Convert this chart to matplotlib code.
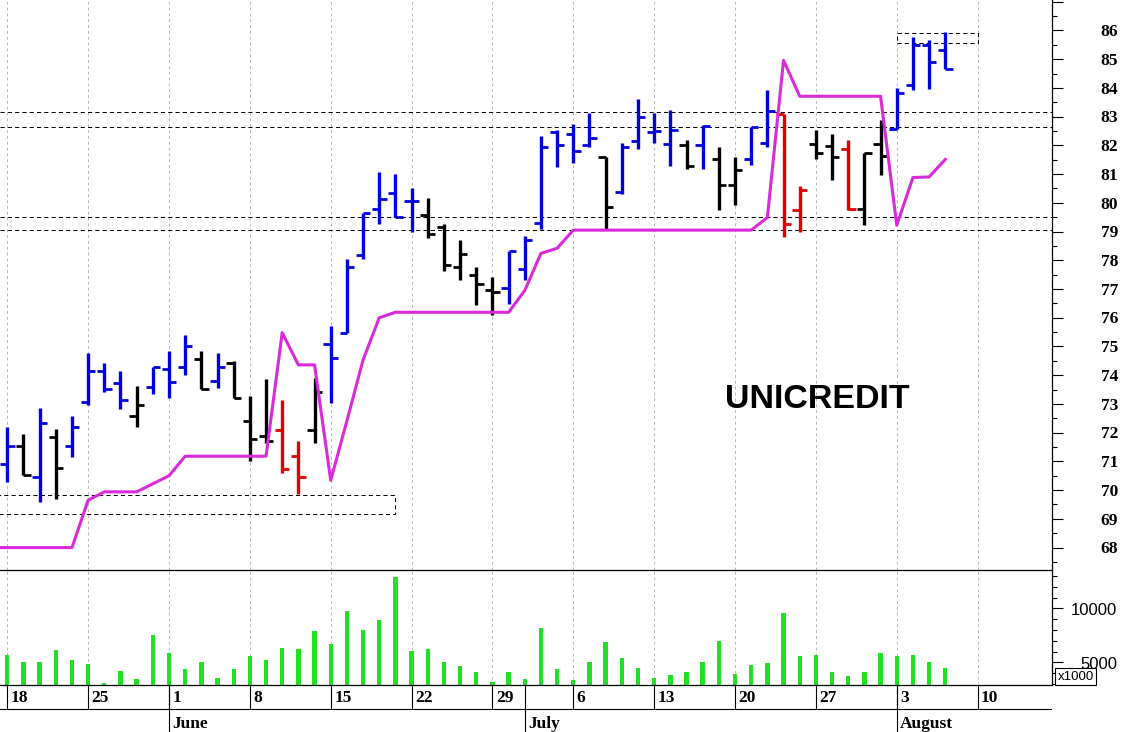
import numpy as np
import matplotlib
matplotlib.use("Agg")
import matplotlib.pyplot as plt
from matplotlib import transforms
from matplotlib.patches import Rectangle

# daily bars, 18 May -> 6 Aug (one entry per trading day)
opens = [70.92, 71.52, 70.44, 71.86, 71.55, 73.08, 74.13, 73.74, 72.59, 73.60,
         74.20, 74.27, 74.55, 73.81, 74.44, 72.39, 71.90, 72.11, 71.20, 72.11,
         75.10, 75.48, 78.20, 79.80, 80.33, 80.05, 79.56, 79.16, 77.75, 77.48,
         76.95, 77.02, 77.71, 79.31, 82.45, 82.41, 82.03, 81.58, 80.36, 82.14,
         82.48, 82.06, 82.00, 82.00, 81.52, 80.61, 81.51, 82.08, 83.08, 79.74,
         82.04, 81.97, 81.89, 79.80, 82.06, 82.58, 84.09, 85.48, 85.31]
highs = [72.21, 71.97, 72.87, 72.14, 72.59, 74.79, 74.41, 74.13, 73.64, 74.30,
         74.86, 75.41, 74.86, 74.79, 74.48, 73.26, 73.88, 73.12, 71.72, 73.92,
         75.73, 78.03, 79.66, 81.06, 80.99, 80.50, 80.17, 79.28, 78.70, 77.78,
         77.43, 78.34, 78.83, 82.31, 82.55, 82.76, 83.14, 81.61, 82.10, 83.60,
         83.12, 83.22, 82.18, 82.72, 81.95, 81.58, 82.64, 83.92, 83.10, 80.57,
         82.55, 82.41, 82.18, 81.74, 82.90, 84.01, 85.77, 85.68, 85.94]
lows = [70.30, 70.54, 69.60, 69.70, 71.17, 72.98, 73.43, 72.84, 72.21, 73.36,
        73.19, 73.99, 73.53, 73.57, 73.22, 71.03, 71.65, 70.58, 69.88, 71.65,
        73.05, 75.48, 78.06, 79.25, 79.52, 79.00, 78.79, 77.61, 77.33, 76.46,
        76.08, 76.49, 77.33, 79.10, 81.26, 81.37, 81.93, 79.10, 80.32, 81.86,
        82.08, 81.27, 81.19, 81.19, 79.75, 79.92, 81.31, 81.95, 78.82, 78.98,
        81.54, 80.81, 79.75, 79.22, 80.96, 82.58, 83.94, 83.97, 84.67]
closes = [71.52, 70.54, 72.35, 70.78, 72.21, 74.13, 73.53, 73.15, 72.98, 74.30,
          73.78, 75.00, 73.53, 74.27, 73.22, 71.79, 71.72, 70.75, 70.47, 73.40,
          74.61, 77.75, 79.66, 80.12, 79.52, 80.05, 78.90, 77.82, 78.22, 77.16,
          76.88, 78.34, 78.69, 81.93, 82.03, 81.82, 82.27, 79.87, 81.96, 83.00,
          82.50, 82.53, 81.27, 82.66, 80.61, 81.14, 82.64, 83.20, 79.25, 80.43,
          81.72, 81.58, 79.80, 81.74, 81.62, 83.82, 85.48, 84.90, 84.67]
# b = blue, k = black, r = red
bar_codes = "bkbkb bbbkb bbkbk kkrrk bbbbb bkkkk kbbbb bbkbb bbkbk kbbrr kkrkk bbbb"
bar_codes = bar_codes.replace(" ", "")

# volume, x1000
volumes = [5676, 5028, 5028, 6111, 5213, 4815, 3055, 4222, 3454, 7500,
           5833, 4380, 5028, 3574, 4380, 5583, 5213, 6352, 6232, 7926,
           6722, 9778, 7963, 8889, 12870, 6074, 6232, 5028, 4630, 4102,
           3176, 4102, 3481, 8204, 4380, 3361, 5028, 6852, 5370, 4500,
           3574, 3824, 4102, 5028, 7000, 3944, 4750, 4907, 9537, 5555,
           5648, 4074, 3704, 4074, 5833, 5583, 5648, 5028, 4472]

# trailing stop, first value is the Friday before 18 May
stop_line = [68.0, 68.0, 68.0, 68.0, 68.0, 68.0, 69.65, 69.94, 69.94, 69.94,
             70.22, 70.50, 71.18, 71.18, 71.18, 71.18, 71.18, 71.18, 75.48, 74.36,
             74.36, 70.34, 72.41, 74.53, 76.00, 76.19, 76.19, 76.19, 76.19, 76.19,
             76.19, 76.19, 76.19, 76.95, 78.24, 78.42, 79.05, 79.05, 79.05, 79.05,
             79.05, 79.05, 79.05, 79.05, 79.05, 79.05, 79.05, 79.05, 79.49, 84.96,
             83.71, 83.71, 83.71, 83.71, 83.71, 83.71, 79.22, 80.88, 80.90, 81.51]

week_days = ['18', '25', '1', '8', '15', '22', '29', '6', '13', '20', '27', '3', '10']
months = ['June', 'July', 'August']
month_first_day = [10, 32, 55]

levels = [83.17, 82.63, 79.50, 79.04]
zone_low = (69.18, 69.84)     # runs to 19 June
zone_high = (85.57, 85.92)    # week of 3 August

colors = {'b': '#0000e0', 'k': '#000000', 'r': '#e00000'}
W, H = 1123, 732

fig = plt.figure(figsize=(W / 100, H / 100), dpi=100)
axw = 1052 / W
ax = fig.add_axes([0, (H - 570) / H, axw, 570 / H])
axv = fig.add_axes([0, (H - 685) / H, axw, 115 / H], sharex=ax)
axd = fig.add_axes([0, 0, axw, 47 / H], sharex=ax)
for a in (axv, axd):
    a.patch.set_alpha(0)

n = len(opens)
x = np.arange(n)
xlim = (-0.45, 64.6)
ylim = (67.22, 87.06)
vlim = (2900, 13550)
mondays = np.arange(0, 61, 5)

# grid
for a in (ax, axv):
    for m in mondays:
        a.axvline(m, color='#b8b8b8', lw=0.7, ls=(0, (3, 3)), zorder=0)

# dashed levels and zones
for lv in levels:
    ax.axhline(lv, color='k', lw=0.75, ls=(0, (4, 3)), zorder=1)
ax.add_patch(Rectangle((xlim[0] - 1, zone_low[0]), 24 - xlim[0] + 1,
                       zone_low[1] - zone_low[0], fill=False, ec='k',
                       lw=0.75, ls=(0, (4, 3)), zorder=1))
ax.add_patch(Rectangle((55, zone_high[0]), 5, zone_high[1] - zone_high[0],
                       fill=False, ec='k', lw=0.75, ls=(0, (4, 3)), zorder=1))

# OHLC bars
cols = [colors[c] for c in bar_codes]
ax.vlines(x, lows, highs, colors=cols, lw=2.4, zorder=2)
ax.hlines(opens, x - 0.45, x, colors=cols, lw=2.0, zorder=2)
ax.hlines(closes, x, x + 0.45, colors=cols, lw=2.0, zorder=2)

# stop line
ax.plot(np.arange(-1, n), stop_line, color='#d82ad8', lw=2.2, zorder=3)

ax.set_xlim(*xlim)
ax.set_ylim(*ylim)
ax.yaxis.tick_right()
ax.set_yticks(np.arange(68, 88))
ax.set_yticks(np.arange(67.5, 87.5, 1), minor=True)
ax.tick_params(axis='y', which='major', length=7.9, width=0.8, direction='out',
               labelright=False, labelleft=False)
ax.tick_params(axis='y', which='minor', length=3.6, width=0.8, direction='out')
ax.tick_params(axis='x', bottom=False, labelbottom=False)
for s in ('top', 'left'):
    ax.spines[s].set_visible(False)
for s in ('bottom', 'right'):
    ax.spines[s].set_linewidth(0.9)
    ax.spines[s].set_zorder(10)

tr = transforms.blended_transform_factory(fig.transFigure, ax.transData)
tr = transforms.offset_copy(tr, fig=fig, y=-5.7, units='dots')
for p in range(68, 87):
    ax.text(1118 / W, p, str(p), transform=tr, ha='right', va='baseline',
            family='Liberation Serif', fontweight='bold', fontsize=12.5)

fig.text(817 / W, 1 - 407.7 / H, 'UNICREDIT', ha='center', va='baseline',
         family='Liberation Sans', fontweight='bold', fontsize=24.5)

# volume
vol = np.array(volumes)
axv.bar(x, vol - vlim[0], bottom=vlim[0], width=0.27, color='#22e022', zorder=2)
axv.set_ylim(*vlim)
axv.yaxis.tick_right()
axv.set_yticks([5000, 10000])
axv.set_yticks(np.arange(3000, 14000, 1000), minor=True)
axv.tick_params(axis='y', which='major', length=7.9, width=0.8, labelright=False)
axv.tick_params(axis='y', which='minor', length=3.6, width=0.8)
axv.tick_params(axis='x', bottom=False, labelbottom=False)
for s in ('top', 'left'):
    axv.spines[s].set_visible(False)
for s in ('bottom', 'right'):
    axv.spines[s].set_linewidth(0.9)

trv = transforms.blended_transform_factory(fig.transFigure, axv.transData)
trv = transforms.offset_copy(trv, fig=fig, y=-6.3, units='dots')
for v in (5000, 10000):
    axv.text(1117 / W, v, str(v), transform=trv, ha='right', va='baseline',
             family='Liberation Sans', fontsize=12)

fig.add_artist(Rectangle((1055 / W, (H - 685) / H), 41 / W, 17 / H,
                         transform=fig.transFigure, fc='white', ec='k', lw=0.8,
                         zorder=5))
fig.text(1075.5 / W, 1 - 676.5 / H, 'x1000', ha='center', va='center',
         family='Liberation Sans', fontsize=9.5, zorder=6)

# date rows
axd.set_ylim(47, 0)
axd.axis('off')
axd.plot(xlim, [24, 24], color='k', lw=0.8)
for m, lab in zip(mondays, week_days):
    axd.plot([m, m], [0, 24], color='k', lw=0.8)
    axd.text(m + 0.21, 17.3, lab, ha='left', va='baseline',
             family='Liberation Serif', fontweight='bold', fontsize=12.5)
for i0, lab in zip(month_first_day, months):
    axd.plot([i0, i0], [0, 47], color='k', lw=0.8)
    axd.text(i0 + 0.22, 43, lab, ha='left', va='baseline',
             family='Liberation Serif', fontweight='bold', fontsize=12.5)
axd.set_xlim(*xlim)

fig.savefig('out.png', dpi=100)
